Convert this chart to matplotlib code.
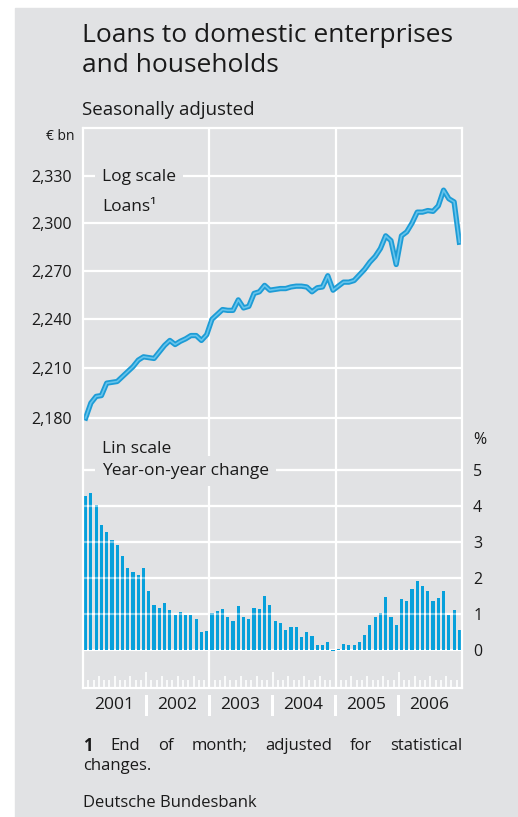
import matplotlib
matplotlib.use("Agg")
import matplotlib.pyplot as plt
from matplotlib.patches import Rectangle
from matplotlib.lines import Line2D
from matplotlib.ticker import FixedLocator, NullLocator
import numpy as np

plt.rcParams['font.family'] = ['Open Sans', 'DejaVu Sans']

# ---- data ----
years = ["2001", "2002", "2003", "2004", "2005", "2006"]

# end-of-month loans, EUR bn, Jan 2001 .. Dec 2006
loans = [2180, 2189, 2193, 2193.5, 2201, 2201.5, 2202, 2205, 2208, 2211, 2215, 2217,
         2216.5, 2216, 2220, 2224, 2227, 2224.5, 2226.5, 2228, 2230, 2230, 2227, 2230.5,
         2240, 2243, 2246, 2245.5, 2245.5, 2252, 2247, 2248, 2256, 2257, 2261, 2258,
         2258.5, 2259, 2259, 2260, 2260.5, 2260.5, 2260, 2257, 2259.5, 2260, 2267, 2258,
         2260.5, 2263, 2263, 2264, 2267.5, 2271, 2275.5, 2279, 2284, 2292, 2289, 2274,
         2292, 2294.5, 2300, 2307, 2307, 2308, 2307.5, 2311, 2321, 2315.5, 2313.5, 2288]

# year-on-year change, %
yoy = [4.29, 4.35, 4.03, 3.47, 3.27, 3.06, 2.91, 2.61, 2.29, 2.16, 2.09, 2.29,
       1.65, 1.24, 1.18, 1.31, 1.11, 0.97, 1.06, 0.97, 0.97, 0.86, 0.50, 0.54,
       1.03, 1.07, 1.14, 0.93, 0.81, 1.21, 0.93, 0.87, 1.17, 1.14, 1.50, 1.24,
       0.81, 0.76, 0.56, 0.64, 0.64, 0.36, 0.50, 0.40, 0.13, 0.13, 0.22, -0.03,
       0.02, 0.16, 0.13, 0.13, 0.22, 0.41, 0.69, 0.92, 1.03, 1.47, 0.93, 0.69,
       1.42, 1.37, 1.69, 1.92, 1.79, 1.64, 1.37, 1.44, 1.64, 0.97, 1.10, 0.56]

loan_ticks = [2180, 2210, 2240, 2270, 2300, 2330]
yoy_ticks = [0, 1, 2, 3, 4, 5]

W, H = 518, 817
bg = "#e1e2e4"
blue = "#1d9cd6"
light = "#66c4ec"
bar_blue = "#07a0db"
ink = "#1a1a1a"


def fx(x):
    return x / W


def fy(y):
    return 1 - y / H


fig = plt.figure(figsize=(W / 100, H / 100), dpi=100, facecolor="white")
fig.patches.append(Rectangle((fx(15), 0), 1 - fx(15), fy(8), transform=fig.transFigure,
                             color=bg, zorder=-5))

ax1 = fig.add_axes([fx(83), fy(440), fx(462 - 83), (440 - 128) / H])
ax2 = fig.add_axes([fx(83), fy(688), fx(462 - 83), (688 - 440) / H])
for ax in (ax1, ax2):
    ax.set_facecolor("none")
    for s in ax.spines.values():
        s.set_visible(False)
    ax.set_xlim(0, 72)
    ax.set_xticks([])
    ax.tick_params(length=0)
    for xv in (24, 48):
        ax.axvline(xv, color="white", lw=1.6, zorder=1)

months = np.arange(len(loans)) + 0.5

# upper panel: loans, log scale
ax1.set_yscale("log")
ax1.set_ylim(2166.85, 2361.0)
ax1.yaxis.set_major_locator(FixedLocator(loan_ticks))
ax1.yaxis.set_minor_locator(NullLocator())
ax1.set_yticklabels([f"{v:,}" for v in loan_ticks], fontsize=11.5, color=ink)
ax1.tick_params(axis="y", pad=8)
for v in loan_ticks:
    ax1.axhline(v, color="white", lw=1.6, zorder=1)
ax1.plot(months, loans, color=blue, lw=3.8, zorder=3, solid_joinstyle="round")
ax1.plot(months, loans, color=light, lw=1.2, zorder=4, solid_joinstyle="round")

# lower panel: year-on-year change
ymin2 = -1.056
ax2.set_ylim(ymin2, 5.833)
ax2.yaxis.tick_right()
ax2.set_yticks(yoy_ticks)
ax2.set_yticklabels([str(v) for v in yoy_ticks], fontsize=11.5, color=ink)
ax2.tick_params(axis="y", pad=8)
for v in yoy_ticks:
    ax2.axhline(v, color="white", lw=1.6, zorder=1)
ax2.bar(months, yoy, width=0.6, color=bar_blue, zorder=3)
for v in yoy_ticks[1:]:
    ax2.axhline(v, color="white", lw=1.6, alpha=0.45, zorder=4)

# month / quarter / year ticks along the bottom
for m in range(1, 72):
    L = 16 if m % 12 == 0 else (12 if m % 3 == 0 else 8)
    ax2.vlines(m, ymin2, ymin2 + L / 36, color="white", lw=1.2, zorder=2)

# frame
for (x0, y0, x1, y1) in [(83, 128, 462, 128), (83, 688, 462, 688),
                         (83, 128, 83, 688), (462, 128, 462, 688)]:
    fig.add_artist(Line2D([fx(x0), fx(x1)], [fy(y0), fy(y1)], color="white", lw=1.6))

# year labels and separators
for k, yr in enumerate(years):
    fig.text(fx(83 + 63 * k + 31.5), fy(705), yr, ha="center", va="center",
             fontsize=12.5, color=ink)
    if k > 0:
        fig.add_artist(Line2D([fx(83 + 63 * k)] * 2, [fy(696), fy(714)],
                              color="white", lw=2.2))

# titles and labels
fig.text(fx(82), fy(35), "Loans to domestic enterprises", fontsize=19, color=ink,
         va="center")
fig.text(fx(82), fy(66), "and households", fontsize=19, color=ink, va="center")
fig.text(fx(82), fy(110), "Seasonally adjusted", fontsize=13.5, color=ink, va="center")
fig.text(fx(74), fy(137), "€ bn", fontsize=10, color=ink, ha="right", va="center")
fig.text(fx(473), fy(440), "%", fontsize=11.5, color=ink, ha="left", va="center")

box = dict(facecolor=bg, edgecolor="none", pad=5)
fig.text(fx(102), fy(177), "Log scale", fontsize=12.5, color=ink, va="center", bbox=box)
fig.text(fx(102), fy(207), "Loans\u00b9", fontsize=12.5, color=ink, va="center")
fig.text(fx(102), fy(449), "Lin scale", fontsize=12.5, color=ink, va="center", bbox=box)
fig.text(fx(102), fy(471), "Year-on-year change", fontsize=12.5, color=ink, va="center",
         bbox=box)

# footnote, first line justified between the frame edges
words = ["1", "End", "of", "month;", "adjusted", "for", "statistical"]
texts = [fig.text(0, fy(746), w, fontsize=12, color=ink, va="center",
                  fontweight="bold" if i == 0 else "normal")
         for i, w in enumerate(words)]
renderer = fig.canvas.get_renderer()
widths = [t.get_window_extent(renderer).width for t in texts]
gap = (462 - 83 - sum(widths)) / (len(words) - 1)
x = 83
for t, w in zip(texts, widths):
    t.set_x(fx(x))
    x += w + gap
fig.text(fx(83), fy(766), "changes.", fontsize=12, color=ink, va="center")
fig.text(fx(83), fy(803), "Deutsche Bundesbank", fontsize=12, color=ink, va="center")

fig.savefig("out.png", dpi=100, facecolor="white")
